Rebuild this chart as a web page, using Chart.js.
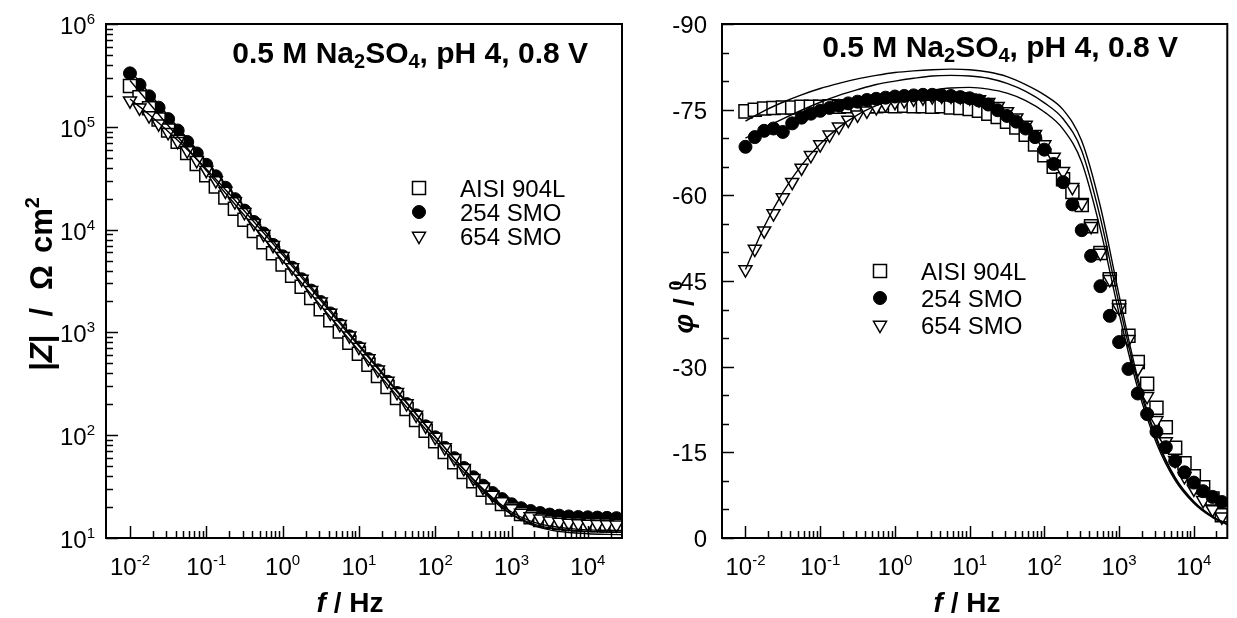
<!DOCTYPE html>
<html><head><meta charset="utf-8">
<script src="https://cdn.jsdelivr.net/npm/chart.js@4"></script>
<style>
html,body{margin:0;padding:0;background:#fff;overflow:hidden;width:1237px;height:618px;}
canvas{position:absolute;top:0;}
#c1{left:0}
#c2{left:640px}
</style></head><body>
<canvas id="c1" width="640" height="618"></canvas>
<canvas id="c2" width="598" height="618"></canvas>
<script>
// ---------------- data ----------------
const seriesNames = ['AISI 904L', '254 SMO', '654 SMO'];
const freq = [0.01,0.013335,0.017783,0.023714,0.031623,0.04217,0.056234,0.074989,
  0.1,0.13335,0.17783,0.23714,0.31623,0.4217,0.56234,0.74989,
  1,1.3335,1.7783,2.3714,3.1623,4.217,5.6234,7.4989,
  10,13.335,17.783,23.714,31.623,42.17,56.234,74.989,
  100,133.35,177.83,237.14,316.23,421.7,562.34,749.89,
  1000,1333.5,1778.3,2371.4,3162.3,4217,5623.4,7498.9,
  10000,13335,17783,23714];
const zAISI = [249500,194300,151400,117900,91830,71530,55720,43400,
  33810,26330,20510,15980,12450,9694,7551,5882,
  4581,3567,2777,2161,1683,1310,1020,794,
  620.7,483.7,377.3,294.3,230,179.8,140.9,110.5,
  87.1,68.8,54.7,43.9,35.6,29.4,24.8,21.4,
  18.9,17.1,15.9,15.0,14.4,14.0,13.7,13.5,
  13.4,13.3,13.2,13.15];
const z254 = [331000,256000,198000,153500,118800,92000,71200,55100,
  42700,33000,25550,19780,15310,11850,9170,7100,
  5500,4260,3290,2550,1975,1530,1184,917,
  711,551,427,331,257.6,200.8,156,122,
  95.4,75.3,59.8,48,39,32.3,27.4,23.9,
  21.3,19.5,18.3,17.5,16.9,16.5,16.2,16.0,
  15.9,15.8,15.7,15.6];
const z654 = [179500,152800,128500,107100,88400,72300,58670,47250,
  37800,30080,23800,18760,14740,11550,9033,7050,
  5495,4270,3310,2570,1990,1545,1197,928,
  720,558,433,336,261,203,157.5,123,
  96,75.8,59.8,47.6,38.2,31.2,26.2,22.6,
  19.4,17.5,16.2,15.4,14.7,14.3,14.0,13.8,
  13.7,13.6,13.5,13.45];
const phAISI = [-74.7,-75.0,-75.2,-75.3,-75.4,-75.4,-75.5,-75.5,
  -75.5,-75.6,-75.5,-75.6,-75.7,-75.6,-75.6,-75.7,
  -75.6,-75.7,-75.6,-75.6,-75.5,-75.6,-75.4,-75.3,
  -75.1,-74.8,-74.3,-73.7,-72.9,-71.9,-70.6,-68.9,
  -67.0,-65.0,-62.8,-60.6,-58.3,-54.6,-49.9,-45.3,
  -40.5,-35.4,-30.8,-27.0,-22.8,-19.4,-15.8,-13.1,
  -10.8,-8.9,-6.9,-4.0];
const ph254 = [-68.5,-70.2,-71.3,-71.7,-71.1,-72.6,-73.6,-74.3,
  -74.8,-75.3,-75.7,-76.1,-76.4,-76.7,-76.9,-77.1,
  -77.3,-77.4,-77.5,-77.6,-77.6,-77.5,-77.4,-77.2,
  -77.0,-76.6,-75.9,-74.9,-73.9,-72.9,-71.7,-70.2,
  -68.0,-65.5,-62.3,-58.4,-53.9,-49.4,-44.1,-38.9,
  -34.3,-29.6,-25.3,-21.7,-18.6,-15.9,-13.5,-11.5,
  -9.7,-8.2,-7.2,-6.3];
const ph654 = [-47.0,-50.6,-53.8,-56.8,-59.6,-62.3,-64.8,-67.0,
  -68.9,-70.6,-72.0,-73.2,-74.1,-74.8,-75.4,-75.9,
  -76.3,-76.6,-76.9,-77.1,-77.3,-77.4,-77.4,-77.3,
  -77.1,-76.8,-76.3,-75.6,-74.7,-73.6,-72.3,-70.7,
  -68.9,-66.7,-64.2,-61.4,-58.6,-54.6,-49.9,-45.3,
  -40.3,-34.8,-29.6,-24.8,-20.6,-16.9,-13.6,-10.8,
  -8.6,-6.6,-5.0,-3.7];
// fitted curves
const fitFreq = [0.01,0.017783,0.031623,0.056234,0.1,0.17783,0.31623,0.56234,1,1.7783,3.1623,5.6234,
  10,17.783,31.623,56.234,100,177.83,316.23,562.34,1000,1778.3,3162.3,5623.4,10000,17783,31623];
const fitZAISI = [281800,170200,102900,62230,37580,22700,13720,8299,5012,3020,1820,1096,
  663,400.5,241.5,146.3,89.2,55.0,34.9,23.3,17.1,13.95,12.5,11.9,11.6,11.45,11.4];
const fitZ254 = [354800,213300,128100,76910,46240,27780,16690,10030,6026,3589,2138,1274,
  761,455,270.7,162.0,97.4,59.2,36.8,24.0,17.0,13.6,12.0,11.3,11.0,10.85,10.77];
const fitZ654 = [186200,131800,90160,60260,38900,24550,15140,9333,5689,3409,2042,1223,
  735.5,441.5,264.8,159.4,96.6,59.2,37.2,24.7,17.9,14.6,13.1,12.4,12.0,11.9,11.85];
const fitPhAISI = [-73.0,-74.8,-76.3,-77.6,-78.7,-79.6,-80.4,-81.0,-81.5,-81.8,-82.0,-82.1,
  -82.0,-81.6,-80.8,-79.4,-77.6,-75.0,-69.5,-58.0,-42.5,-28.0,-17.6,-10.6,-6.4,-3.8,-2.2];
const fitPh254 = [-70.0,-71.8,-73.4,-74.9,-76.3,-77.5,-78.5,-79.4,-80.0,-80.5,-80.9,-81.0,
  -80.9,-80.5,-79.6,-78.2,-76.2,-73.4,-67.8,-56.0,-41.0,-27.2,-17.2,-10.4,-6.3,-3.7,-2.1];
const fitPh654 = [-47.0,-54.5,-60.5,-65.3,-69.0,-71.9,-74.1,-75.7,-76.9,-77.8,-78.4,-78.8,
  -78.9,-78.6,-77.9,-76.6,-74.6,-71.6,-65.8,-54.0,-39.3,-26.2,-16.6,-10.1,-6.1,-3.6,-2.0];
// axes
const xTickExps = [-2,-1,0,1,2,3,4];
const zTickExps = [1,2,3,4,5,6];
const phaseTicks = [-90,-75,-60,-45,-30,-15,0];
const xMin = 0.00485, xMax = 28050;
const zMin = 10, zMax = 1e6;
const phMin = -90, phMax = 0;

// ---------------- helpers ----------------
const FONT = '"Liberation Sans", Arial, Helvetica, sans-serif';
function pts(xs, ys){ return xs.map((x,i)=>({x:x, y:ys[i]})); }
function richWidth(ctx, parts){ let w=0; for(const p of parts){ ctx.font=p.f; w+=ctx.measureText(p.t).width+(p.gap||0); } return w; }
function drawRich(ctx, parts, x, y, align){
  const w = richWidth(ctx, parts);
  let cx = align==='center' ? x-w/2 : (align==='right' ? x-w : x);
  ctx.textAlign='left'; ctx.textBaseline='alphabetic'; ctx.fillStyle='#000';
  for(const p of parts){ ctx.font=p.f; ctx.fillText(p.t, cx, y+(p.dy||0)); cx += ctx.measureText(p.t).width+(p.gap||0); }
}
function pow10(e){ return [{t:'10', f:'24px '+FONT},{t:String(e), f:'15px '+FONT, dy:-10}]; }
const styles = [
  {pointStyle:'rect', pointRadius:9.2, backgroundColor:'#fff', borderColor:'#000', borderWidth:1.5, rotation:0},
  {pointStyle:'circle', pointRadius:6.5, backgroundColor:'#000', borderColor:'#000', borderWidth:1, rotation:0},
  {pointStyle:'triangle', pointRadius:7.5, backgroundColor:'#fff', borderColor:'#000', borderWidth:1.5, rotation:180}
];
function markerDS(label, data, st, order){
  return {label:label, data:data, showLine:false, order:order,
    pointStyle:st.pointStyle, pointRadius:st.pointRadius, pointRotation:st.rotation,
    pointBackgroundColor:st.backgroundColor, pointBorderColor:st.borderColor, pointBorderWidth:st.borderWidth,
    backgroundColor:st.backgroundColor, borderColor:st.borderColor};
}
function lineDS(label, data){
  return {label:label, data:data, showLine:true, order:0, pointRadius:0, borderColor:'#000', borderWidth:1.4,
    cubicInterpolationMode:'monotone', fill:false};
}
function drawMarker(ctx, st, x, y){
  ctx.save(); ctx.lineWidth=st.borderWidth; ctx.strokeStyle=st.borderColor; ctx.fillStyle=st.backgroundColor;
  ctx.beginPath();
  if(st.pointStyle==='rect'){ const s=Math.SQRT1_2*st.pointRadius; ctx.rect(x-s,y-s,2*s,2*s); }
  else if(st.pointStyle==='circle'){ ctx.arc(x,y,st.pointRadius,0,2*Math.PI); }
  else { const r=st.pointRadius; let rad=Math.PI; for(let i=0;i<3;i++){ const px=x+Math.sin(rad)*r, py=y-Math.cos(rad)*r; if(i===0) ctx.moveTo(px,py); else ctx.lineTo(px,py); rad+=2*Math.PI/3; } ctx.closePath(); }
  ctx.fill(); ctx.stroke(); ctx.restore();
}
function drawLegend(ctx, mx, tx, ys){
  for(let i=0;i<3;i++){
    drawMarker(ctx, styles[i], mx, ys[i]);
    ctx.font='24px '+FONT; ctx.fillStyle='#000'; ctx.textAlign='left'; ctx.textBaseline='alphabetic';
    ctx.fillText(seriesNames[i], tx, ys[i]+9);
  }
}
function annotation(){ return [
  {t:'0.5 M Na', f:'bold 30px '+FONT},{t:'2', f:'bold 20px '+FONT, dy:5},
  {t:'SO', f:'bold 30px '+FONT},{t:'4', f:'bold 20px '+FONT, dy:5},
  {t:', pH 4, 0.8 V', f:'bold 30px '+FONT}]; }
function line(ctx,x1,y1,x2,y2){ ctx.beginPath(); ctx.moveTo(x1,y1); ctx.lineTo(x2,y2); ctx.stroke(); }
function drawXAxis(ctx, chart){
  const a=chart.chartArea, xs=chart.scales.x;
  ctx.strokeStyle='#000'; ctx.lineWidth=1.5;
  for(const e of xTickExps){
    for(let k=1;k<=9;k++){
      const v=k*Math.pow(10,e); if(v<xs.min||v>xs.max) continue;
      const px=Math.round(xs.getPixelForValue(v))+0.5;
      line(ctx, px, a.bottom, px, a.bottom-(k===1?12:7));
    }
    const px=xs.getPixelForValue(Math.pow(10,e));
    drawRich(ctx, pow10(e), px, a.bottom+37, 'center');
  }
}
function xTitle(ctx, x, y){
  drawRich(ctx, [{t:'f', f:'italic bold 28px '+FONT},{t:' / Hz', f:'bold 28px '+FONT}], x, y, 'center');
}

// ---------------- chart 1: |Z| ----------------
const plugin1 = {id:'decor1', afterDraw(chart){
  const ctx=chart.ctx, a=chart.chartArea, ys=chart.scales.y;
  ctx.save();
  ctx.strokeStyle='#000'; ctx.lineWidth=2;
  ctx.strokeRect(a.left, a.top, a.right-a.left, a.bottom-a.top);
  drawXAxis(ctx, chart);
  ctx.lineWidth=1.5;
  for(const e of zTickExps){
    for(let k=1;k<=9;k++){
      const v=k*Math.pow(10,e); if(v<ys.min||v>ys.max) continue;
      const py=Math.round(ys.getPixelForValue(v))+0.5;
      line(ctx, a.left, py, a.left+(k===1?12:7), py);
    }
    drawRich(ctx, pow10(e), a.left-11, ys.getPixelForValue(Math.pow(10,e))+10, 'right');
  }
  xTitle(ctx, 350, 612);
  // y title
  ctx.save(); ctx.translate(41, 284); ctx.rotate(-Math.PI/2);
  drawRich(ctx, [{t:'|', f:'bold 31px '+FONT},{t:'Z', f:'italic bold 31px '+FONT},
    {t:'|', f:'bold 31px '+FONT, gap:18},{t:'/', f:'bold 31px '+FONT, gap:18},
    {t:'\u03A9', f:'bold 31px '+FONT, gap:12},{t:'cm', f:'bold 31px '+FONT},
    {t:'2', f:'bold 20px '+FONT, dy:-13}], 0, 11, 'center');
  ctx.restore();
  drawRich(ctx, annotation(), 588, 63, 'right');
  drawLegend(ctx, 419, 460, [188, 212, 236]);
  ctx.restore();
}};
new Chart(document.getElementById('c1'), {
  type:'scatter',
  data:{datasets:[
    lineDS('fit 254 SMO', pts(fitFreq, fitZ254)),
    lineDS('fit AISI 904L', pts(fitFreq, fitZAISI)),
    lineDS('fit 654 SMO', pts(fitFreq, fitZ654)),
    markerDS(seriesNames[2], pts(freq, z654), styles[2], 1),
    markerDS(seriesNames[0], pts(freq, zAISI), styles[0], 2),
    markerDS(seriesNames[1], pts(freq, z254), styles[1], 3)
  ]},
  options:{responsive:false, animation:false, events:[], devicePixelRatio:1,
    layout:{padding:{left:106, top:24, right:18, bottom:80}},
    plugins:{legend:{display:false}, tooltip:{enabled:false}},
    scales:{x:{type:'logarithmic', min:xMin, max:xMax, display:false},
            y:{type:'logarithmic', min:zMin, max:zMax, display:false}}},
  plugins:[plugin1]
});

// ---------------- chart 2: phase ----------------
const plugin2 = {id:'decor2', afterDraw(chart){
  const ctx=chart.ctx, a=chart.chartArea, ys=chart.scales.y;
  ctx.save();
  ctx.strokeStyle='#000'; ctx.lineWidth=2;
  ctx.strokeRect(a.left, a.top, a.right-a.left, a.bottom-a.top);
  drawXAxis(ctx, chart);
  ctx.lineWidth=1.5;
  for(let v=phMin; v<=phMax; v+=5){
    const py=Math.round(ys.getPixelForValue(v))+0.5;
    line(ctx, a.left, py, a.left+(v%15===0?12:7), py);
  }
  ctx.font='24px '+FONT; ctx.fillStyle='#000'; ctx.textAlign='right'; ctx.textBaseline='alphabetic';
  for(const v of phaseTicks){ ctx.fillText(String(v), a.left-15, ys.getPixelForValue(v)+9); }
  xTitle(ctx, 967-640, 612);
  ctx.save(); ctx.translate(683-640, 307); ctx.rotate(-Math.PI/2);
  drawRich(ctx, [{t:'\u03C6', f:'italic bold 28px '+FONT},{t:' / ', f:'bold 28px '+FONT},
    {t:'0', f:'bold 18px '+FONT, dy:-11}], 0, 10, 'center');
  ctx.restore();
  drawRich(ctx, annotation(), 1178-640, 57, 'right');
  drawLegend(ctx, 880-640, 921-640, [271, 298, 325]);
  ctx.restore();
}};
new Chart(document.getElementById('c2'), {
  type:'scatter',
  data:{datasets:[
    lineDS('fit AISI 904L', pts(fitFreq, fitPhAISI)),
    lineDS('fit 254 SMO', pts(fitFreq, fitPh254)),
    lineDS('fit 654 SMO', pts(fitFreq, fitPh654)),
    markerDS(seriesNames[1], pts(freq, ph254), styles[1], 1),
    markerDS(seriesNames[2], pts(freq, ph654), styles[2], 2),
    markerDS(seriesNames[0], pts(freq, phAISI), styles[0], 3)
  ]},
  options:{responsive:false, animation:false, events:[], devicePixelRatio:1,
    layout:{padding:{left:82, top:24, right:0, bottom:80}},
    plugins:{legend:{display:false}, tooltip:{enabled:false}},
    scales:{x:{type:'logarithmic', min:xMin, max:xMax, display:false},
            y:{type:'linear', min:phMin, max:phMax, reverse:true, display:false}}},
  plugins:[plugin2]
});
</script>
</body></html>
